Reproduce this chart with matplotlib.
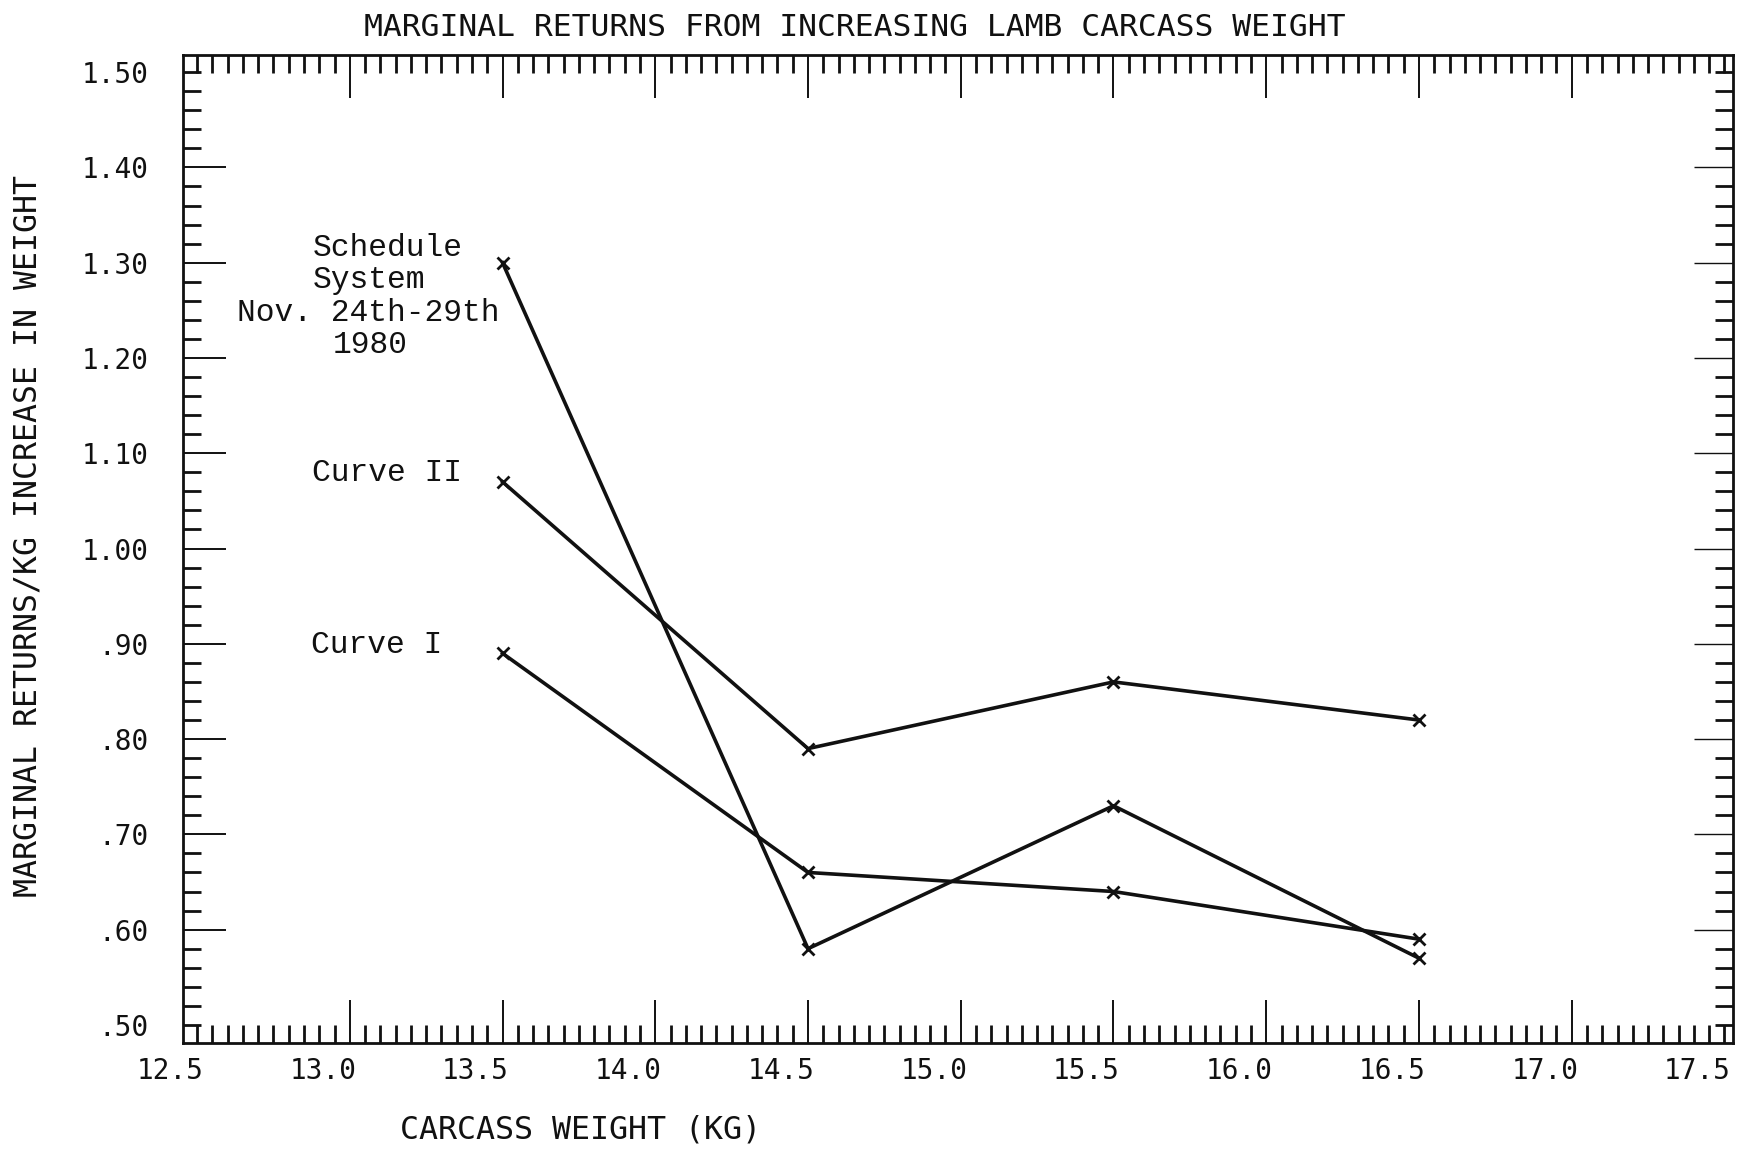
import matplotlib
matplotlib.use('Agg')
import matplotlib.pyplot as plt
from matplotlib.transforms import ScaledTranslation

# ---------------- data ----------------
weights = [13.5, 14.5, 15.5, 16.5]
schedule_system = [1.30, 0.58, 0.73, 0.57]
curve_ii = [1.07, 0.79, 0.86, 0.82]
curve_i = [0.89, 0.66, 0.64, 0.59]

x_ticks = [12.5, 13.0, 13.5, 14.0, 14.5, 15.0, 15.5, 16.0, 16.5, 17.0, 17.5]
x_tick_labels = ['12.5', '13.0', '13.5', '14.0', '14.5', '15.0',
                 '15.5', '16.0', '16.5', '17.0', '17.5']
y_ticks = [0.50, 0.60, 0.70, 0.80, 0.90, 1.00, 1.10, 1.20, 1.30, 1.40, 1.50]
y_tick_labels = ['.50', '.60', '.70', '.80', '.90', '1.00',
                 '1.10', '1.20', '1.30', '1.40', '1.50']

title = "MARGINAL RETURNS FROM INCREASING LAMB CARCASS WEIGHT"
x_label = "CARCASS WEIGHT (KG)"
y_label = "MARGINAL RETURNS/KG INCREASE IN WEIGHT"

# ---------------- figure ----------------
W, H = 1750, 1149
fig = plt.figure(figsize=(W / 100, H / 100), dpi=100)
ax = fig.add_axes([183 / W, 1 - 1043 / H, (1733 - 183) / W, (1043 - 55) / H])

ink = '#111111'
line_kw = dict(color=ink, lw=2.6, marker='x', ms=9, mew=2)
ax.plot(weights, schedule_system, **line_kw)
ax.plot(weights, curve_ii, **line_kw)
ax.plot(weights, curve_i, **line_kw)

ax.set_xlim(12.454, 17.528)
ax.set_ylim(0.481, 1.518)

for s in ax.spines.values():
    s.set_linewidth(2.0)
    s.set_color(ink)

ax.set_xticks(x_ticks)
ax.set_xticklabels(x_tick_labels)
ax.set_yticks(y_ticks)
ax.set_yticklabels(y_tick_labels)
ax.set_xticks([12.5 + 0.05 * i for i in range(101) if i % 10], minor=True)
ax.set_yticks([0.5 + 0.02 * i for i in range(51) if i % 5], minor=True)

mono = 'DejaVu Sans Mono'
ax.tick_params(which='both', direction='in', top=True, right=True, colors=ink)
ax.tick_params(which='major', length=31, width=1.4)
ax.tick_params(which='minor', length=13, width=2.0)
ax.tick_params(axis='x', which='major', pad=10, labelsize=20)
ax.tick_params(axis='y', which='major', pad=25, labelsize=20)
for lbl in ax.get_xticklabels() + ax.get_yticklabels():
    lbl.set_family(mono)
    lbl.set_color(ink)

# edge ticks are short in the original
for axis in (ax.xaxis, ax.yaxis):
    ticks = axis.get_major_ticks()
    for t in (ticks[0], ticks[-1]):
        t.tick1line.set_markersize(13)
        t.tick2line.set_markersize(13)
        t.tick1line.set_markeredgewidth(2.0)
        t.tick2line.set_markeredgewidth(2.0)
for t in ax.yaxis.get_major_ticks()[1:-1]:
    t.tick2line.set_markeredgewidth(1.0)
    t.tick2line.set_markersize(28)

# x tick labels sit to the left of their ticks in the original print
off = ScaledTranslation(-0.27, 0, fig.dpi_scale_trans)
for lbl in ax.get_xticklabels():
    lbl.set_transform(lbl.get_transform() + off)

# titles and axis labels
fig.text(855 / W, 1 - 27 / H, title, ha='center', va='center',
         family=mono, fontsize=22.6, color=ink)
fig.text(580 / W, 1 - 1130 / H, x_label, ha='center', va='center',
         family=mono, fontsize=22.8, color=ink)
fig.text(28 / W, 1 - 536 / H, y_label, ha='center', va='center',
         rotation=90, family=mono, fontsize=22.7, color=ink)

# curve annotations (typewriter style)
typew = 'Liberation Mono'
notes = [("Schedule", 313, 248), ("System", 313, 280),
         ("Nov. 24th-29th", 237, 313), ("1980", 333, 345),
         ("Curve II", 312, 473), ("Curve I", 311, 645)]
for txt, px, py in notes:
    fig.text(px / W, 1 - py / H, txt, ha='left', va='center',
             family=typew, fontsize=22.5, color=ink)

fig.savefig('out.png', dpi=100, facecolor='white')
